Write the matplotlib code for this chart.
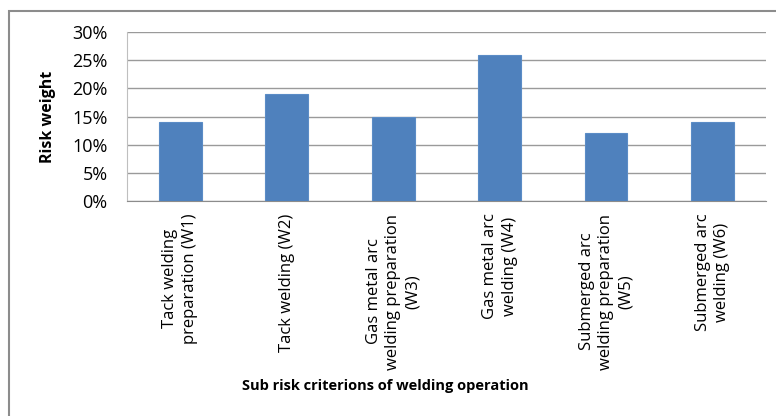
import numpy as np
import matplotlib
matplotlib.use('Agg')
import matplotlib.pyplot as plt
from matplotlib.patches import Rectangle
from matplotlib.ticker import PercentFormatter

plt.rcParams['font.family'] = ['Open Sans', 'DejaVu Sans']

categories = ['Tack welding\npreparation (W1)',
              'Tack welding (W2)',
              'Gas metal arc\nwelding preparation\n(W3)',
              'Gas metal arc\nwelding (W4)',
              'Submerged arc\nwelding preparation\n(W5)',
              'Submerged arc\nwelding (W6)']
weights = [14, 19, 15, 26, 12, 14]
y_ticks = [0, 5, 10, 15, 20, 25, 30]

fig = plt.figure(figsize=(7.76, 4.16), dpi=100)
ax = fig.add_axes([0.1637, 0.5168, 0.8233, 0.4062])

x = np.arange(len(categories))
ax.bar(x, weights, width=0.4, color='#4F81BD', edgecolor='#5B8CC6', linewidth=0.8, zorder=3)

ax.set_xlim(-0.5, len(categories) - 0.5)
ax.set_ylim(0, 30)
ax.set_yticks(y_ticks)
ax.yaxis.set_major_formatter(PercentFormatter(decimals=0))
ax.grid(axis='y', color='#9A9A9A', linewidth=1, zorder=0)
ax.set_xticks(x)
ax.set_xticklabels(categories, rotation=90, ha='center', va='top',
                   multialignment='center', fontsize=12, linespacing=1.3)
ax.tick_params(axis='y', labelsize=13, length=0, pad=14)
ax.tick_params(axis='x', length=0, pad=9)

for s in ['top', 'right']:
    ax.spines[s].set_visible(False)
ax.spines['left'].set_color('#BFBFBF')
ax.spines['bottom'].set_color('#8C8C8C')

ax.set_ylabel('Risk weight', fontsize=11.5, fontweight='bold', labelpad=12)
fig.text(0.497, 0.072, 'Sub risk criterions of welding operation',
         ha='center', va='center', fontsize=10.5, fontweight='bold')

# outer chart border
fig.patches.append(Rectangle((9 / 776, -0.05), 1.1, 1 - 11 / 416 + 0.05,
                             transform=fig.transFigure, fill=False,
                             edgecolor='#8C8C8C', linewidth=1.5))

fig.savefig('out.png', dpi=100)
